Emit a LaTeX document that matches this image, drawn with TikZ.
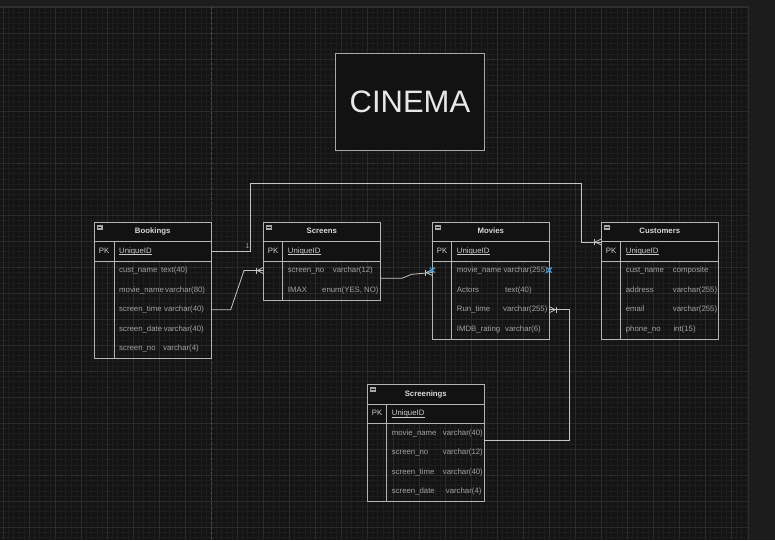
\documentclass[tikz,border=0pt]{standalone}
\usepackage{fontspec}
\setmainfont{Liberation Sans}
\usetikzlibrary{calc}
\definecolor{outerbg}{HTML}{1C1C1C}
\definecolor{canvasbg}{HTML}{141414}
\definecolor{minorgrid}{HTML}{1D1D1D}
\definecolor{majorgrid}{HTML}{2B2B2B}
\definecolor{canvasborder}{HTML}{2F2F2F}
\definecolor{pagebreak}{HTML}{4A4A4A}
\definecolor{hdrbg}{HTML}{121212}
\definecolor{tabline}{HTML}{B4B4B4}
\definecolor{connline}{HTML}{C4C4C4}
\definecolor{hdrcol}{HTML}{D8D8D8}
\definecolor{pkcol}{HTML}{CCCCCC}
\definecolor{rowcol}{HTML}{A2A2A2}
\definecolor{iconcol}{HTML}{A8A8A8}
\definecolor{selblue}{HTML}{3C9DE0}
\definecolor{titlecol}{HTML}{E8E8E8}
\definecolor{titlebox}{HTML}{A8A8A8}
\tikzset{
  tline/.style={draw=tabline, line width=0.8pt},
  conn/.style={draw=connline, line width=0.8pt},
  hdrtxt/.style={text=hdrcol, font=\fontsize{7.8}{9}\selectfont\bfseries, inner sep=0pt, text height=5.7pt, text depth=1.7pt},
  pktxt/.style={text=pkcol, font=\fontsize{7.8}{9}\selectfont, inner sep=0pt, text height=5.7pt, text depth=1.7pt},
  rowtxt/.style={text=rowcol, font=\fontsize{7.8}{9}\selectfont, inner sep=0pt, anchor=west, text height=5.7pt, text depth=1.7pt},
  lbltxt/.style={text=rowcol, font=\fontsize{7}{8}\selectfont, inner sep=0pt},
  titletxt/.style={text=titlecol, font=\fontsize{31}{36}\selectfont, inner sep=0pt},
  titlebx/.style={draw=titlebox, fill=hdrbg, line width=0.8pt},
}
% #1 name, #2 left, #3 right, #4 top, #5 bottom, #6 divider, #7 title
\newcommand{\ERtab}[7]{%
  \fill[hdrbg] (#2,#4) rectangle (#3,{#4+38.7});
  \draw[tline] (#2,#4) rectangle (#3,#5);
  \draw[tline] (#2,{#4+19.4}) -- (#3,{#4+19.4});
  \draw[tline] (#2,{#4+38.7}) -- (#3,{#4+38.7});
  \draw[tline] (#6,{#4+19.4}) -- (#6,#5);
  \coordinate (#1) at ({(#2+#3)/2},{(#4+#5)/2});
  \node[hdrtxt] (#1-title) at ({(#2+#3)/2},{#4+9.6}) {#7};
  \node[pktxt] (#1-pk) at ({(#2+#6)/2},{#4+29.1}) {PK};
  \node[pktxt, anchor=west] (#1-uid) at ({#6+5},{#4+29.1}) {UniqueID};
  \draw[pkcol, line width=0.6pt] ($(#1-uid.base west)+(0,1.3)$) -- ($(#1-uid.base east)+(0,1.3)$);
  \fill[iconcol] ({#2+2.5},{#4+2.5}) rectangle ({#2+8.5},{#4+7.5});
  \draw[hdrbg, line width=0.7pt] ({#2+3.8},{#4+5}) -- ({#2+7.2},{#4+5});
}
% crow foot, entity on the right of the point
\newcommand{\crowL}[1]{%
  \draw[conn] ($(#1)+(-6,0)$) -- ($(#1)+(0,-3)$);
  \draw[conn] ($(#1)+(-6,0)$) -- ($(#1)+(0,3)$);
  \draw[conn] ($(#1)+(-7,-3)$) -- ($(#1)+(-7,3)$);
}
% crow foot, entity on the left of the point
\newcommand{\crowR}[1]{%
  \draw[conn] ($(#1)+(6,0)$) -- ($(#1)+(0,-3)$);
  \draw[conn] ($(#1)+(6,0)$) -- ($(#1)+(0,3)$);
  \draw[conn] ($(#1)+(7,-3)$) -- ($(#1)+(7,3)$);
}
\newcommand{\selx}[1]{%
  \draw[selblue, line width=1.1pt] ($(#1)+(-2.6,-2.6)$) -- ($(#1)+(2.6,2.6)$);
  \draw[selblue, line width=1.1pt] ($(#1)+(-2.6,2.6)$) -- ($(#1)+(2.6,-2.6)$);
}
\begin{document}
\begin{tikzpicture}[x=1pt,y=-1pt]
\useasboundingbox (0,0) rectangle (775,540);
% background
\fill[outerbg] (0,0) rectangle (775,540);
\fill[canvasbg] (0,7) rectangle (748.5,540);
\foreach \k in {0,...,143} \draw[minorgrid, line width=0.5pt] ({3.3+5.2*\k},7) -- ({3.3+5.2*\k},540);
\foreach \k in {0,...,102} \draw[minorgrid, line width=0.5pt] (0,{7.3+5.2*\k}) -- (748.5,{7.3+5.2*\k});
\foreach \k in {0,...,28} \draw[majorgrid, line width=0.7pt] ({3.3+26*\k},7) -- ({3.3+26*\k},540);
\foreach \k in {0,...,20} \draw[majorgrid, line width=0.7pt] (0,{7.3+26*\k}) -- (748.5,{7.3+26*\k});
\draw[canvasborder, line width=1.2pt] (0,7) -- (748.5,7) -- (748.5,540);
\draw[pagebreak, line width=0.7pt, dash pattern=on 3pt off 2pt] (211.3,7) -- (211.3,540);

% title
\node[titlebx, minimum width=149.8pt, minimum height=97.3pt, anchor=north west, inner sep=0pt] (titlebox) at (334.6,53) {};
\node[titletxt] (title) at (titlebox.center) {CINEMA};

% tables
\ERtab{bk}{94}{211.3}{222.3}{358.3}{114}{Bookings}
\ERtab{sc}{263.3}{380.3}{222.3}{300}{282.7}{Screens}
\ERtab{mv}{432.3}{549.3}{222.3}{339}{451.7}{Movies}
\ERtab{cu}{601.3}{718.3}{222.3}{339}{620.7}{Customers}
\ERtab{sn}{367.3}{484.3}{384.7}{501.7}{386.7}{Screenings}

% Bookings rows
\node[rowtxt] (bk-r1a) at (119,270.4) {cust\_name};
\node[rowtxt] (bk-r1b) at (161,270.4) {text(40)};
\node[rowtxt] (bk-r2a) at (119,290.0) {movie\_name};
\node[rowtxt] (bk-r2b) at (165,290.0) {varchar(80)};
\node[rowtxt] (bk-r3a) at (119,309.6) {screen\_time};
\node[rowtxt] (bk-r3b) at (164,309.6) {varchar(40)};
\node[rowtxt] (bk-r4a) at (119,329.2) {screen\_date};
\node[rowtxt] (bk-r4b) at (163.7,329.2) {varchar(40)};
\node[rowtxt] (bk-r5a) at (119,348.7) {screen\_no};
\node[rowtxt] (bk-r5b) at (163,348.7) {varchar(4)};
% Screens rows
\node[rowtxt] (sc-r1a) at (287.7,270.4) {screen\_no};
\node[rowtxt] (sc-r1b) at (332.7,270.4) {varchar(12)};
\node[rowtxt] (sc-r2a) at (287.7,290.0) {IMAX};
\node[rowtxt] (sc-r2b) at (322,290.0) {enum(YES, NO)};
% Movies rows
\node[rowtxt] (mv-r1a) at (456.7,270.4) {movie\_name};
\node[rowtxt] (mv-r1b) at (503.3,270.4) {varchar(255)};
\node[rowtxt] (mv-r2a) at (456.7,290.0) {Actors};
\node[rowtxt] (mv-r2b) at (505,290.0) {text(40)};
\node[rowtxt] (mv-r3a) at (456.7,309.6) {Run\_time};
\node[rowtxt] (mv-r3b) at (503,309.6) {varchar(255)};
\node[rowtxt] (mv-r4a) at (456.7,329.2) {IMDB\_rating};
\node[rowtxt] (mv-r4b) at (505,329.2) {varchar(6)};
% Customers rows
\node[rowtxt] (cu-r1a) at (625.7,270.4) {cust\_name};
\node[rowtxt] (cu-r1b) at (672.7,270.4) {composite};
\node[rowtxt] (cu-r2a) at (625.7,290.0) {address};
\node[rowtxt] (cu-r2b) at (672.7,290.0) {varchar(255)};
\node[rowtxt] (cu-r3a) at (625.7,309.6) {email};
\node[rowtxt] (cu-r3b) at (672.7,309.6) {varchar(255)};
\node[rowtxt] (cu-r4a) at (625.7,329.2) {phone\_no};
\node[rowtxt] (cu-r4b) at (673.3,329.2) {int(15)};
% Screenings rows
\node[rowtxt] (sn-r1a) at (391.7,433.3) {movie\_name};
\node[rowtxt] (sn-r1b) at (442.7,433.3) {varchar(40)};
\node[rowtxt] (sn-r2a) at (391.7,452.8) {screen\_no};
\node[rowtxt] (sn-r2b) at (442.7,452.8) {varchar(12)};
\node[rowtxt] (sn-r3a) at (391.7,472.3) {screen\_time};
\node[rowtxt] (sn-r3b) at (442.7,472.3) {varchar(40)};
\node[rowtxt] (sn-r4a) at (391.7,491.5) {screen\_date};
\node[rowtxt] (sn-r4b) at (445.7,491.5) {varchar(4)};

% connection points
\coordinate (bkUID) at (211.3,251.1);
\coordinate (cuIn) at (601.3,242.0);
\coordinate (bkST) at (211.3,309.7);
\coordinate (scIn) at (263.3,270.5);
\coordinate (scOut) at (380.3,278.3);
\coordinate (mvIn) at (432.3,272.5);
\coordinate (mvRT) at (549.3,309.7);
\coordinate (snOut) at (484.3,440.3);
\coordinate (mvSelL) at (432.3,270.2);
\coordinate (mvSelR) at (549.3,270.2);

% connectors
\draw[conn] (bkUID) -- (250,251.1) -- (250,183.3) -- (581.6,183.3) -- (581.6,242.0) -- (cuIn);
\node[lbltxt] (lbl1) at (247.3,246.5) {1};
\crowL{cuIn}
\draw[conn] (bkST) -- (230.7,309.7) -- (244,270.5) -- (scIn);
\crowL{scIn}
\draw[conn] (scOut) -- (401.7,278.3) -- (411.7,274.3) -- (mvIn);
\crowL{mvIn}
\draw[conn] (mvRT) -- (569,309.7) -- (569,440.3) -- (snOut);
\crowR{mvRT}
\selx{mvSelL}
\selx{mvSelR}
\end{tikzpicture}
\end{document}
